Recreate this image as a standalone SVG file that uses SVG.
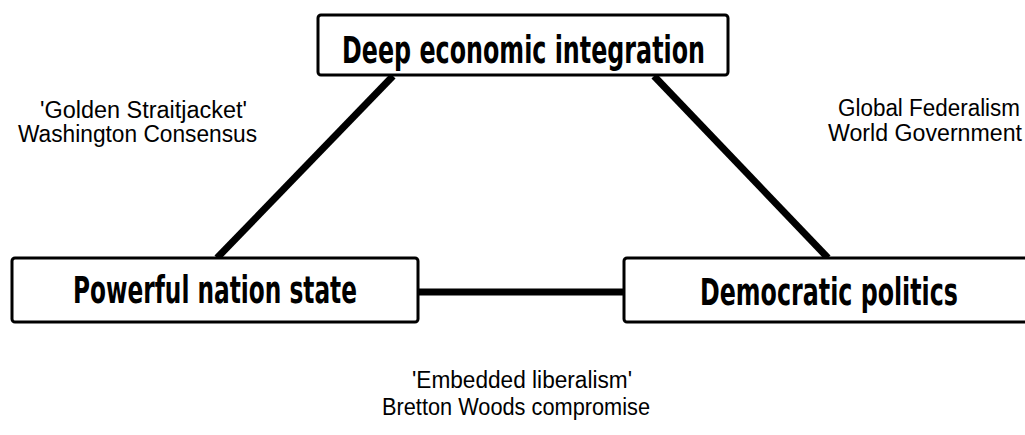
<svg xmlns="http://www.w3.org/2000/svg" width="1025" height="435" viewBox="0 0 1025 435">
<style>
.box{fill:#fff;stroke:#000;stroke-width:3}
.bt{font-family:"Liberation Sans Narrow","DejaVu Sans Condensed","Liberation Sans",sans-serif;font-weight:bold;font-size:37px;fill:#000}
.lt{font-family:"Liberation Sans","DejaVu Sans",sans-serif;font-size:23px;fill:#000}
.conn{stroke:#000;stroke-width:7;fill:none;stroke-linecap:butt}
</style>
<rect width="1025" height="435" fill="#fff"/>
<g id="connectors">
<line class="conn" x1="217" y1="258" x2="393" y2="76"/>
<line class="conn" x1="654" y1="76" x2="828" y2="258"/>
<line class="conn" x1="418" y1="292" x2="624" y2="292"/>
</g>
<g id="node-deep">
<rect class="box" x="318" y="15" width="410" height="60" rx="3"/>
<text class="bt" x="342" y="63" textLength="363" lengthAdjust="spacingAndGlyphs">Deep economic integration</text>
</g>
<g id="node-nation">
<rect class="box" x="12" y="258" width="406" height="64" rx="3"/>
<text class="bt" x="73" y="303" textLength="284" lengthAdjust="spacingAndGlyphs">Powerful nation state</text>
</g>
<g id="node-democratic">
<rect class="box" x="624" y="258" width="404" height="64" rx="3"/>
<text class="bt" x="700" y="305" textLength="258" lengthAdjust="spacingAndGlyphs">Democratic politics</text>
</g>
<g id="label-left">
<text class="lt" x="40" y="118" textLength="207" lengthAdjust="spacingAndGlyphs">'Golden Straitjacket'</text>
<text class="lt" x="18" y="142" textLength="239" lengthAdjust="spacingAndGlyphs">Washington Consensus</text>
</g>
<g id="label-right">
<text class="lt" x="838" y="116" textLength="182" lengthAdjust="spacingAndGlyphs">Global Federalism</text>
<text class="lt" x="828" y="141" textLength="194" lengthAdjust="spacingAndGlyphs">World Government</text>
</g>
<g id="label-bottom">
<text class="lt" x="412" y="388" textLength="220" lengthAdjust="spacingAndGlyphs">'Embedded liberalism'</text>
<text class="lt" x="382" y="415" textLength="268" lengthAdjust="spacingAndGlyphs">Bretton Woods compromise</text>
</g>
</svg>
